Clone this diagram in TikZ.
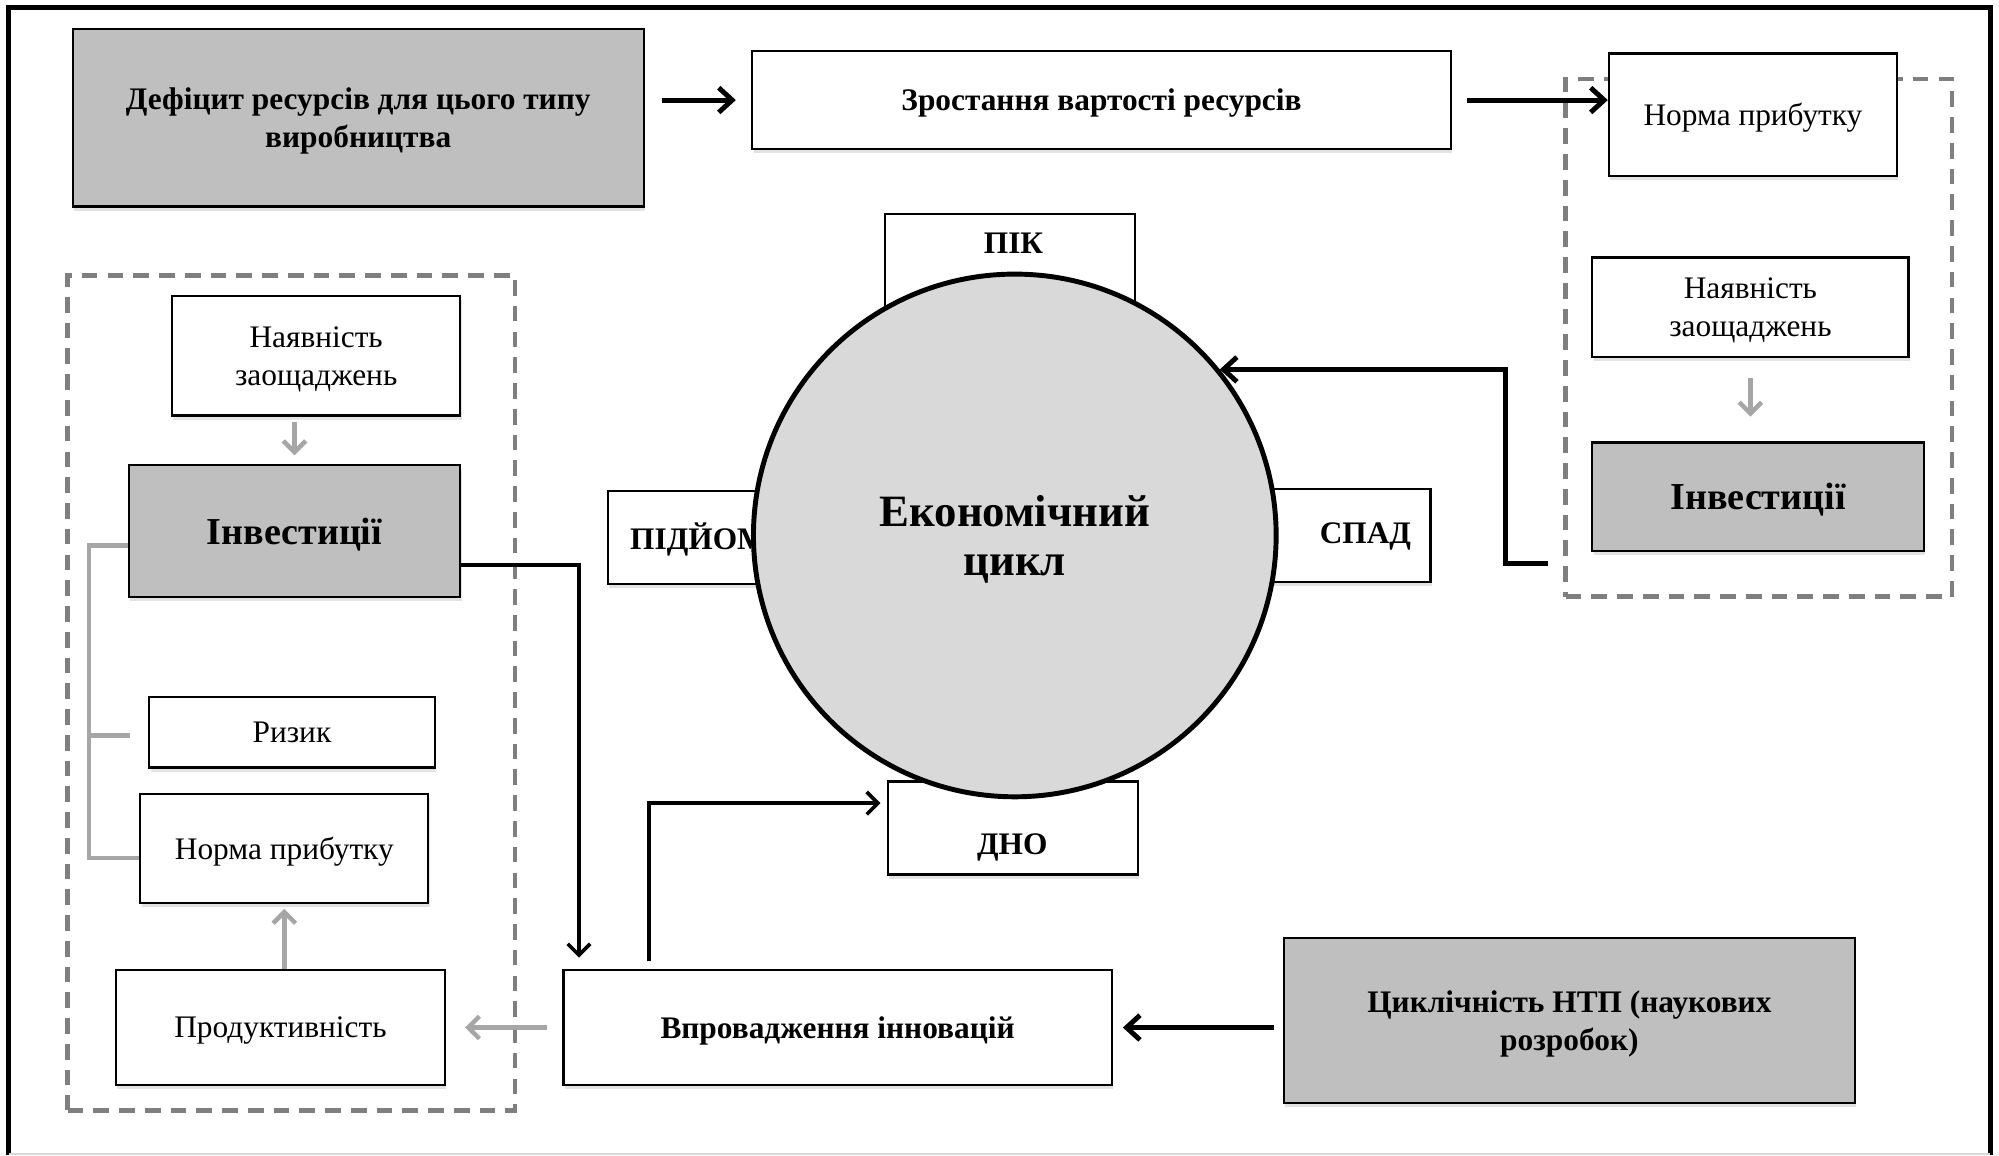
\documentclass[tikz,border=0pt]{standalone}
\usepackage{fontspec}
\setmainfont{Liberation Serif}
\usetikzlibrary{arrows.meta,shadows}
\definecolor{boxgray}{HTML}{BFBFBF}
\definecolor{cyclegray}{HTML}{D9D9D9}
\definecolor{dashgray}{HTML}{7F7F7F}
\definecolor{arrgray}{HTML}{A6A6A6}
\tikzset{
  wh/.style 2 args={minimum width=#1*0.02cm, minimum height=#2*0.02cm},
  box/.style={draw, line width=1pt, fill=white, align=center, inner sep=0pt, text depth=-0.5pt,
    font=\fontsize{14}{17}\selectfont,
    drop shadow={opacity=0.22, shadow xshift=0.6pt, shadow yshift=-1.8pt}},
  boldbox/.style={box, font=\bfseries\fontsize{14}{17}\selectfont},
  graybox/.style={boldbox, fill=boxgray},
  invbox/.style={graybox, font=\bfseries\fontsize{17}{20}\selectfont},
  phase/.style={draw, line width=1pt, fill=white, inner sep=0pt, wh={196}{73},
    drop shadow={opacity=0.22, shadow xshift=0.6pt, shadow yshift=-1.8pt}},
  phaselbl/.style={font=\bfseries\fontsize{14}{17}\selectfont, inner sep=0pt},
  group/.style={draw=dashgray, line width=2pt, dash pattern=on 7pt off 4.5pt, inner sep=0pt},
  blk/.style={draw, line width=1.6pt, -{Straight Barb[length=5pt,width=10pt]}},
  blkbig/.style={blk, line width=2.2pt, -{Straight Barb[length=6pt,width=11pt]}},
  garr/.style={draw=arrgray, line width=2pt, -{Straight Barb[length=5pt,width=10pt]}},
  gline/.style={draw=arrgray, line width=2pt}
}
\begin{document}
\begin{tikzpicture}[x=0.02cm, y=-0.02cm]
  \useasboundingbox (0,0) rectangle (1568,906);
  \draw[line width=2.2pt] (7,906) -- (7,6) -- (1561,6) -- (1561,906);
  \draw[gray!30, line width=1pt] (7,905) -- (1561,905);

  \node[group, wh={351}{655}] (lgroup) at (228.5,543.5) {};
  \node[group, wh={303}{406}] (rgroup) at (1379.5,265) {};

  \node[graybox, wh={448}{139}] (deficit) at (281,92.5) {Дефіцит ресурсів для цього типу\\виробництва};
  \node[boldbox, wh={548}{77}] (growth) at (864,78.5) {Зростання вартості ресурсів};
  \node[box, wh={226}{96}] (rnorm) at (1375,90) {Норма прибутку};
  \node[box, wh={248}{78}] (rsav) at (1373,241) {Наявність\\заощаджень};
  \node[invbox, wh={260}{85}] (rinv) at (1379,389.5) {Інвестиції};

  \node[box, wh={226}{94}] (lsav) at (248,279) {Наявність\\заощаджень};
  \node[invbox, wh={260}{103}] (linv) at (231,416.5) {Інвестиції};
  \node[box, wh={224}{55}] (risk) at (229,574.5) {Ризик};
  \node[box, wh={226}{85}] (lnorm) at (223,665.5) {Норма прибутку};
  \node[box, wh={258}{90}] (prod) at (220,806) {Продуктивність};
  \node[boldbox, wh={430}{90}] (innov) at (657,806) {Впровадження інновацій};
  \node[graybox, wh={448}{129}] (ntp) at (1231,800.5) {Циклічність НТП (наукових\\розробок)};

  \node[phase] (pik) at (792,204.5) {};
  \node[phase] (rise) at (575,421.5) {};
  \node[phase] (fall) at (1024,420) {};
  \node[phase] (dno) at (794.5,649.5) {};
  \node[phaselbl] (pikt) at (795,191) {ПІК};
  \node[phaselbl, anchor=west] (riset) at (494,423) {ПІДЙОМ};
  \node[phaselbl] (fallt) at (1071,421) {СПАД};
  \node[phaselbl] (dnot) at (794,665) {ДНО};

  \node[circle, draw, line width=2.2pt, fill=cyclegray, minimum size=410*0.02cm, inner sep=0pt,
    align=center, text depth=-1pt, font=\bfseries\fontsize{20}{22}\selectfont] (cycle) at (796,420) {Економічний\\цикл};

  \draw[blkbig, shorten <=7.4pt, shorten >=6.8pt] (deficit.east |- growth.west) -- (growth.west);
  \draw[blkbig, shorten <=6.8pt] (growth.east) -- (growth.east -| rnorm.west);

  \coordinate (rout) at ([xshift=-0.24cm]rgroup.west |- 0,442);
  \draw[blkbig] (rout) -- ++(-33,0) |- (cycle.39);
  \draw[blk] (linv.east |- 0,443) -| ([xshift=0.26cm, yshift=0.18cm]innov.north west);
  \draw[blk] ([xshift=1.36cm, yshift=0.12cm]innov.north west) |- ([xshift=-0.1cm, yshift=0.39cm]dno.west);
  \draw[blkbig, shorten <=4pt, shorten >=4.5pt] (ntp.west |- innov.east) -- (innov.east);

  \draw[garr, shorten <=9pt, shorten >=11pt] (rsav.south) -- (rsav.south |- rinv.north);
  \draw[garr, shorten <=2.3pt, shorten >=4pt] (linv.north |- lsav.south) -- (linv.north);
  \draw[garr, shorten >=2.3pt] (prod.north -| lnorm.south) -- (lnorm.south);
  \draw[garr, shorten <=6.8pt, shorten >=8.5pt] (innov.west) -- (innov.west -| prod.east);

  \draw[gline] (linv.west |- 0,428) -- (70,428) |- (lnorm.west |- 0,673);
  \draw[gline] (70,577) -- ([xshift=-0.28cm]risk.west |- 0,577);
\end{tikzpicture}
\end{document}
